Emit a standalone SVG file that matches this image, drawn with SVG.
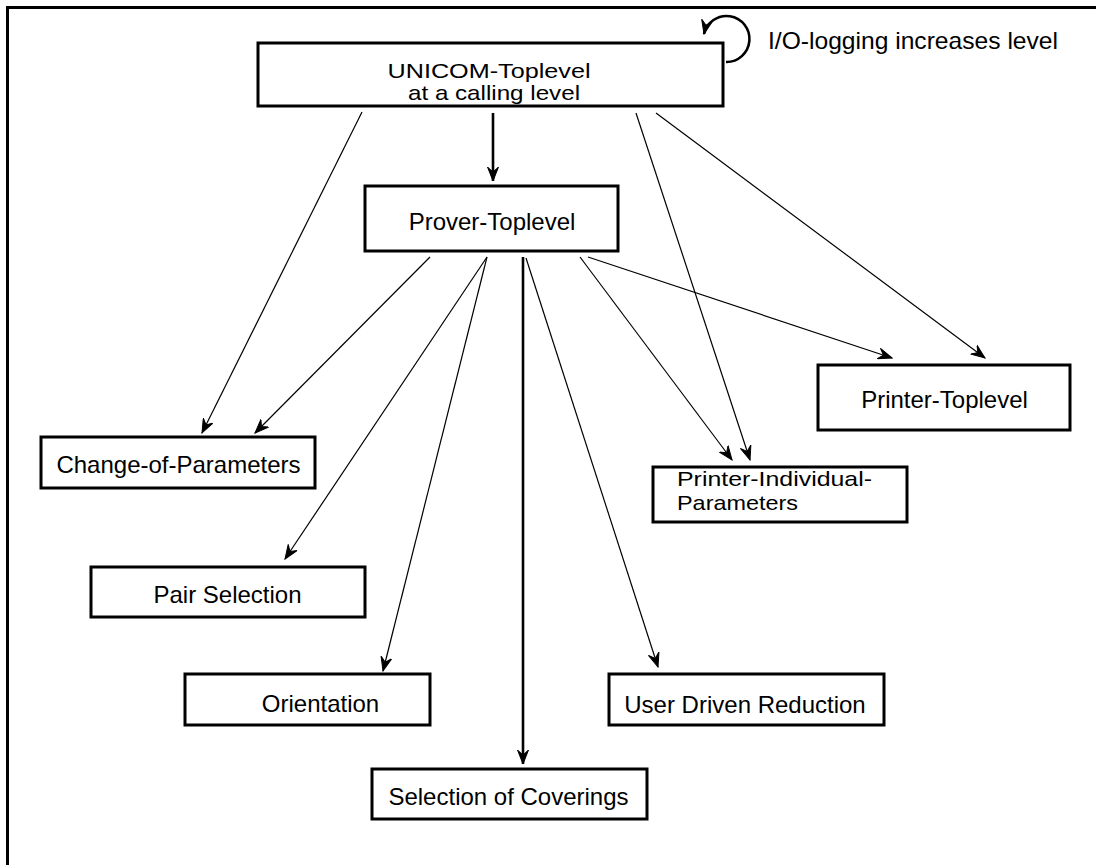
<svg xmlns="http://www.w3.org/2000/svg" width="1096" height="865" viewBox="0 0 1096 865">
<defs>
<style>
.box{fill:#fff;stroke:#000;stroke-width:3}
.lbl{font-family:"Liberation Sans",Arial,sans-serif;font-size:24px;fill:#000}
.sm{font-size:21px}
.mid{text-anchor:middle}
.e{fill:none;stroke:#000;stroke-width:1.2}
.t{fill:none;stroke:#000;stroke-width:2.6}
.frame{fill:none;stroke:#000;stroke-width:3}
</style>
<marker id="ah" viewBox="-14 -6 15 12" refX="0" refY="0" markerWidth="15" markerHeight="12" markerUnits="userSpaceOnUse" orient="auto">
<path d="M0,0 L-14,-5.5 L-9,0 L-14,5.5 Z" fill="#000" stroke="#000" stroke-width="1"/>
</marker>
</defs>
<rect width="1096" height="865" fill="#fff"/>
<path class="frame" d="M7.5,865 V7.5 H1096"/>
<g id="connectors">
<line class="e" x1="362" y1="112" x2="202" y2="433" marker-end="url(#ah)"/>
<line class="t" x1="493" y1="113" x2="493" y2="181" marker-end="url(#ah)"/>
<line class="e" x1="636" y1="113" x2="750" y2="460" marker-end="url(#ah)"/>
<line class="e" x1="656" y1="113" x2="985" y2="358" marker-end="url(#ah)"/>
<line class="e" x1="430" y1="257" x2="255" y2="433" marker-end="url(#ah)"/>
<line class="e" x1="487" y1="257" x2="285" y2="559" marker-end="url(#ah)"/>
<line class="e" x1="487" y1="257" x2="383" y2="671" marker-end="url(#ah)"/>
<line class="t" x1="523" y1="257" x2="523" y2="764" marker-end="url(#ah)"/>
<line class="e" x1="526" y1="258" x2="658" y2="667" marker-end="url(#ah)"/>
<line class="e" x1="580" y1="257" x2="732" y2="460" marker-end="url(#ah)"/>
<line class="e" x1="588" y1="257" x2="892" y2="358" marker-end="url(#ah)"/>
<path class="t" d="M726,62 A23,23 0 1 0 704,34" marker-end="url(#ah)"/>
</g>
<g id="unicom">
<rect class="box" x="258" y="43" width="465" height="63"/>
<text class="lbl sm mid" x="489" y="78" textLength="203" lengthAdjust="spacingAndGlyphs">UNICOM-Toplevel</text>
<text class="lbl sm mid" x="494" y="100" textLength="172" lengthAdjust="spacingAndGlyphs">at a calling level</text>
</g>
<g id="io-label">
<text class="lbl" x="768" y="49" textLength="290" lengthAdjust="spacingAndGlyphs">I/O-logging increases level</text>
</g>
<g id="prover">
<rect class="box" x="365" y="186" width="253" height="65"/>
<text class="lbl mid" x="492" y="230">Prover-Toplevel</text>
</g>
<g id="change">
<rect class="box" x="41" y="437" width="274" height="51"/>
<text class="lbl mid" x="178.5" y="473">Change-of-Parameters</text>
</g>
<g id="pair">
<rect class="box" x="91" y="567" width="274" height="50"/>
<text class="lbl mid" x="227.5" y="603">Pair Selection</text>
</g>
<g id="orientation">
<rect class="box" x="185" y="674" width="245" height="51"/>
<text class="lbl mid" x="320.5" y="712">Orientation</text>
</g>
<g id="coverings">
<rect class="box" x="372" y="769" width="275" height="50"/>
<text class="lbl mid" x="508.5" y="805">Selection of Coverings</text>
</g>
<g id="userdriven">
<rect class="box" x="609" y="674" width="275" height="51"/>
<text class="lbl mid" x="745" y="713">User Driven Reduction</text>
</g>
<g id="printer-individual">
<rect class="box" x="653" y="467" width="254" height="55"/>
<text class="lbl sm" x="677" y="486" textLength="195" lengthAdjust="spacingAndGlyphs">Printer-Individual-</text>
<text class="lbl sm" x="677" y="510" textLength="121" lengthAdjust="spacingAndGlyphs">Parameters</text>
</g>
<g id="printer-toplevel">
<rect class="box" x="818" y="365" width="252" height="65"/>
<text class="lbl mid" x="944.5" y="408">Printer-Toplevel</text>
</g>
</svg>
